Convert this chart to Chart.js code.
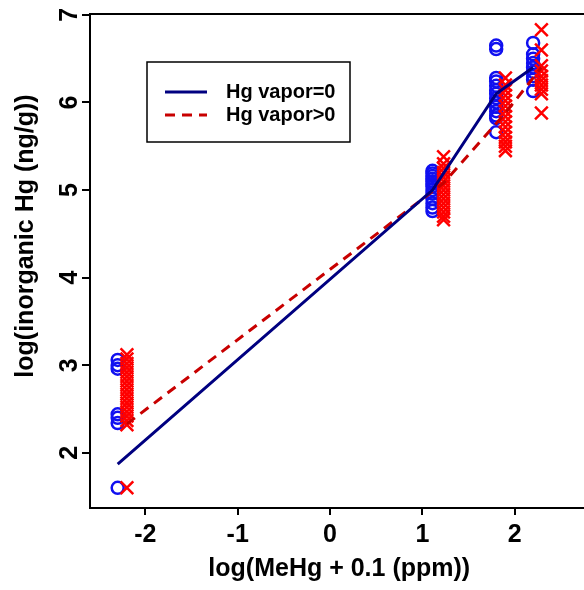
<!DOCTYPE html>
<html><head><meta charset="utf-8">
<script src="https://cdn.jsdelivr.net/npm/chart.js@4.4.1/dist/chart.umd.min.js"></script>
<style>html,body{margin:0;padding:0;background:#fff;overflow:hidden;width:584px;height:590px}canvas{display:block}</style>
</head><body><canvas id="c" width="600" height="590"></canvas>
<script>
// ---- data ----
const xTicks = [-2, -1, 0, 1, 2];
const yTicks = [2, 3, 4, 5, 6, 7];
const seriesLabels = ['Hg vapor=0', 'Hg vapor>0'];
const xTitle = 'log(MeHg + 0.1 (ppm))';
const yTitle = 'log(inorganic Hg (ng/g))';

// x positions of the four groups
const vapor0X = [-2.3, 1.11, 1.8, 2.2];
const vapor1X = [-2.2, 1.23, 1.9, 2.29];

// observed values, Hg vapor = 0 (circles)
const vapor0_g1 = [3.06, 3.0, 2.96, 2.44, 2.4, 2.34, 1.6];
const vapor0_g2 = [5.22, 5.19, 5.16, 5.13, 5.1, 5.07, 5.04, 5.0, 4.96, 4.9, 4.85, 4.8, 4.76];
const vapor0_g3 = [6.65, 6.61, 6.28, 6.24, 6.19, 6.14, 6.1, 6.05, 6.0, 5.95, 5.9, 5.85, 5.82, 5.66];
const vapor0_g4 = [6.68, 6.55, 6.5, 6.45, 6.4, 6.35, 6.3, 6.26, 6.13];

// observed values, Hg vapor > 0 (crosses)
const vapor1_g1 = [3.12, 3.07, 3.02, 2.97, 2.92, 2.87, 2.82, 2.77, 2.72, 2.67, 2.62, 2.57, 2.52, 2.47, 2.42, 2.37, 2.32, 1.6];
const vapor1_g2 = [5.38, 5.3, 5.25, 5.2, 5.15, 5.1, 5.05, 5.0, 4.95, 4.9, 4.85, 4.8, 4.75, 4.7, 4.66];
const vapor1_g3 = [6.28, 6.2, 6.14, 6.08, 6.02, 5.96, 5.9, 5.84, 5.78, 5.72, 5.66, 5.6, 5.55, 5.5, 5.45];
const vapor1_g4 = [6.83, 6.6, 6.42, 6.36, 6.3, 6.25, 6.2, 6.15, 6.1, 5.88];

// fitted lines
const fit0Y = [1.87, 5.0, 6.1, 6.4];
const fit1Y = [2.33, 5.08, 5.88, 6.4];

// ---- build ----
function pts(x, ys) { return ys.map(y => ({x: x, y: y})); }
const circles = [].concat(
  pts(vapor0X[0], vapor0_g1), pts(vapor0X[1], vapor0_g2),
  pts(vapor0X[2], vapor0_g3), pts(vapor0X[3], vapor0_g4));
const crosses = [].concat(
  pts(vapor1X[0], vapor1_g1), pts(vapor1X[1], vapor1_g2),
  pts(vapor1X[2], vapor1_g3), pts(vapor1X[3], vapor1_g4));
const line0 = vapor0X.map((x, i) => ({x: x, y: fit0Y[i]}));
const line1 = vapor1X.map((x, i) => ({x: x, y: fit1Y[i]}));

const FONT = "'Liberation Sans', Arial, sans-serif";

const framePlugin = {
  id: 'frame',
  beforeDraw(chart) {
    const ctx = chart.ctx;
    ctx.save(); ctx.fillStyle = '#fff';
    ctx.fillRect(0, 0, chart.width, chart.height); ctx.restore();
  },
  afterDraw(chart) {
    const ctx = chart.ctx, a = chart.chartArea;
    ctx.save();
    ctx.strokeStyle = '#000'; ctx.lineWidth = 2;
    ctx.strokeRect(a.left, a.top, a.right - a.left + 20, a.bottom - a.top);
    const ys = chart.scales.y;
    ctx.fillStyle = '#000';
    // rotated y tick labels
    ctx.font = "bold 25px " + FONT;
    ctx.textAlign = 'center'; ctx.textBaseline = 'alphabetic';
    yTicks.forEach(v => {
      const py = ys.getPixelForValue(v);
      ctx.save(); ctx.translate(a.left - 13, py); ctx.rotate(-Math.PI / 2);
      ctx.fillText(String(v), 0, 0); ctx.restore();
    });
    // y axis title
    ctx.save(); ctx.translate(33, 236); ctx.rotate(-Math.PI / 2);
    ctx.fillText(yTitle, 0, 0); ctx.restore();
    // legend
    const lx = 147, ly = 62, lw = 203, lh = 80;
    ctx.lineWidth = 1.5; ctx.strokeStyle = '#000';
    ctx.strokeRect(lx, ly, lw, lh);
    ctx.font = "bold 20px " + FONT; ctx.textAlign = 'left'; ctx.textBaseline = 'middle';
    [0, 1].forEach(i => {
      const ds = chart.data.datasets[i];
      const yy = ly + 30 + i * 23;
      ctx.save();
      ctx.strokeStyle = ds.borderColor; ctx.lineWidth = ds.borderWidth;
      ctx.setLineDash(ds.borderDash || []);
      ctx.beginPath(); ctx.moveTo(lx + 18, yy); ctx.lineTo(lx + 60, yy); ctx.stroke();
      ctx.restore();
      ctx.fillStyle = '#000';
      ctx.fillText(ds.label, lx + 79, yy);
    });
    ctx.restore();
  }
};

new Chart(document.getElementById('c'), {
  type: 'scatter',
  data: {
    datasets: [
      {label: seriesLabels[0], data: line0, showLine: true, borderColor: '#000080', borderWidth: 3,
       pointRadius: 0, order: 0},
      {label: seriesLabels[1], data: line1, showLine: true, borderColor: '#c80000', borderWidth: 3,
       borderDash: [10, 7], pointRadius: 0, order: 0},
      {label: 'circles', data: circles, showLine: false, pointStyle: 'circle', pointRadius: 6,
       borderColor: '#1010f0', borderWidth: 2.5, backgroundColor: 'rgba(0,0,0,0)', order: 2},
      {label: 'crosses', data: crosses, showLine: false, pointStyle: 'crossRot', pointRadius: 9,
       borderColor: '#ff0000', borderWidth: 2.5, backgroundColor: 'rgba(0,0,0,0)', order: 1}
    ]
  },
  options: {
    responsive: false,
    animation: false,
    events: [],
    layout: {padding: {top: 14, right: 4, left: 0, bottom: 0}},
    plugins: {legend: {display: false}, tooltip: {enabled: false}},
    scales: {
      x: {
        type: 'linear', min: -2.6, max: 2.8,
        afterBuildTicks: s => { s.ticks = xTicks.map(v => ({value: v})); },
        afterFit: s => { s.height = 82; },
        border: {display: false},
        grid: {display: true, drawOnChartArea: false, drawTicks: true, tickLength: 7,
               color: '#000', lineWidth: 2},
        ticks: {color: '#000', font: {family: FONT, size: 25, weight: 'bold'}, padding: 5, autoSkip: false,
                maxRotation: 0, callback: v => String(v)},
        title: {display: true, text: xTitle, color: '#000',
                font: {family: FONT, size: 25, weight: 'bold'}, padding: {top: 0, bottom: 6}}
      },
      y: {
        type: 'linear', min: 1.37, max: 7.01,
        afterBuildTicks: s => { s.ticks = yTicks.map(v => ({value: v})); },
        afterFit: s => { s.width = 90; },
        border: {display: false},
        grid: {display: true, drawOnChartArea: false, drawTicks: true, tickLength: 8,
               color: '#000', lineWidth: 2},
        ticks: {display: false},
        title: {display: false, text: yTitle}
      }
    }
  },
  plugins: [framePlugin]
});
</script>
</body></html>
